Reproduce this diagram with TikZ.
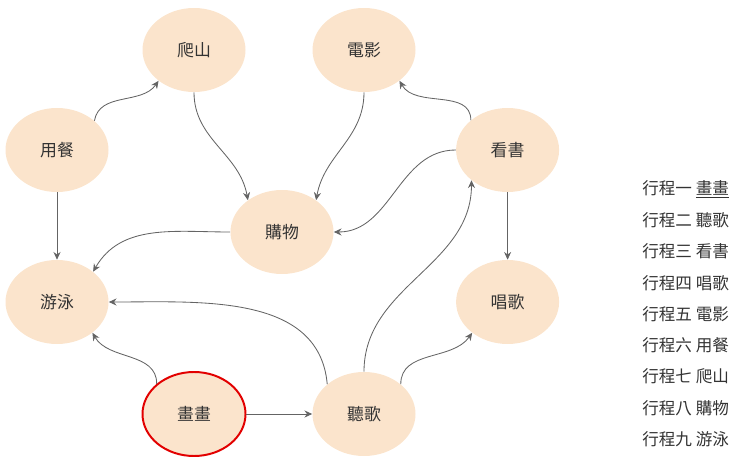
\documentclass[tikz,border=0pt]{standalone}
\usepackage{fontspec}
\setmainfont{Noto Sans CJK TC}
\usetikzlibrary{shapes.geometric, arrows.meta, positioning}
\definecolor{peach}{RGB}{251, 228, 204}
\definecolor{ringred}{RGB}{226, 0, 0}
\definecolor{edgegray}{RGB}{100, 100, 100}
\definecolor{textgray}{RGB}{51, 51, 51}

\begin{document}
\begin{tikzpicture}[
  hobby/.style={ellipse, fill=peach, minimum width=2.575cm, minimum height=2.1cm, inner sep=0pt, font=\fontsize{12}{14}\selectfont, text=textgray},
  link/.style={-{Stealth[length=5.5pt, width=5pt]}, draw=edgegray, line width=0.6pt},
  legend/.style={anchor=west, inner sep=0pt, font=\fontsize{11.8}{13}\selectfont, text=textgray}
]
  \useasboundingbox (0, 0) rectangle (18.5, 11.625);

  % Activities
  \node[hobby] (climb) at (4.85, 10.375) {爬山};
  \node[hobby] (movie) at (9.1, 10.375) {電影};
  \node[hobby] (meal) at (1.425, 7.875) {用餐};
  \node[hobby] (read) at (12.69, 7.875) {看書};
  \node[hobby] (shop) at (7.05, 5.825) {購物};
  \node[hobby] (swim) at (1.425, 4.075) {游泳};
  \node[hobby] (sing) at (12.69, 4.075) {唱歌};
  \node[hobby, draw=ringred, line width=1.4pt] (paint) at (4.85, 1.275) {畫畫};
  \node[hobby] (listen) at (9.1, 1.275) {聽歌};

  % Links
  \draw[link] (meal.38) to[out=80, in=235] (climb.221);
  \draw[link] (climb.270) to[out=270, in=100] (shop.137);
  \draw[link] (movie.270) to[out=270, in=80] (shop.43);
  \draw[link] (read.141) to[out=90, in=300] (movie.319);
  \draw[link] (read.180) to[out=180, in=0] (shop.0);
  \draw[link] (read) -- (sing);
  \draw[link] (meal) -- (swim);
  \draw[link] (shop.180) to[out=180, in=60] (swim.40);
  \draw[link] (listen.141) to[out=95, in=0] (swim.0);
  \draw[link] (paint.141) to[out=90, in=300] (swim.319);
  \draw[link] (paint) -- (listen);
  \draw[link] (listen.90) to[out=90, in=270] (read.220);
  \draw[link] (listen.39) to[out=90, in=235] (sing.221);

  % Schedule
  \node[legend] (step1) at (16.05, 6.9) {行程一 \underline{畫畫}};
  \foreach \num/\name [count=\k from 2] in {二/聽歌, 三/看書, 四/唱歌, 五/電影, 六/用餐, 七/爬山, 八/購物, 九/游泳}
    \node[legend] (step\k) at (16.05, {6.9 - 0.78125*(\k-1)}) {行程\num\ \name};
\end{tikzpicture}
\end{document}
